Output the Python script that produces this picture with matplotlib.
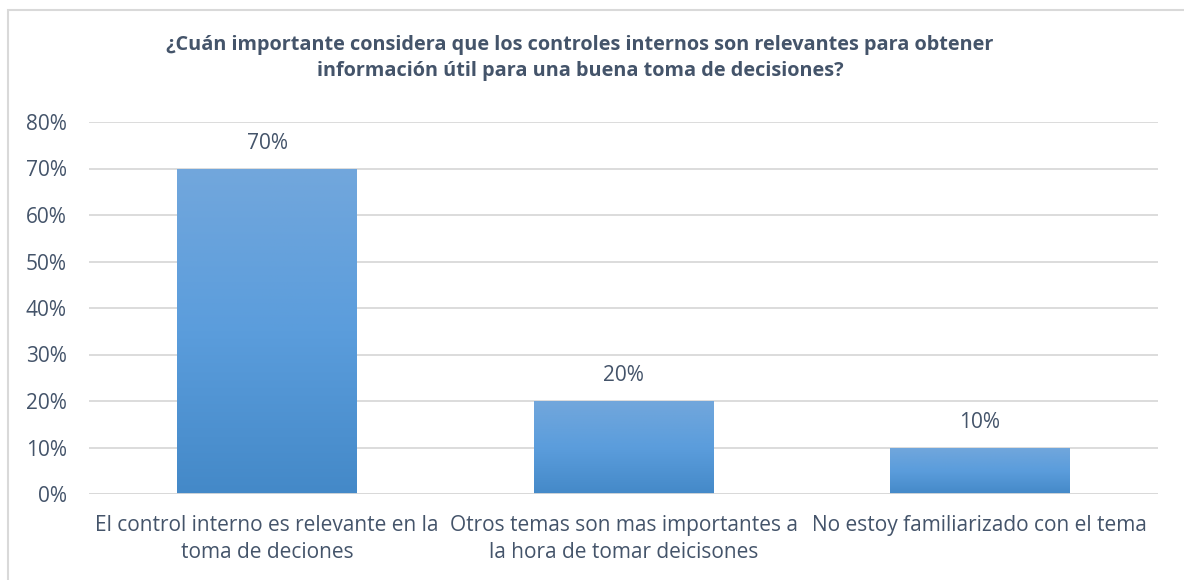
import numpy as np
import matplotlib.pyplot as plt
from matplotlib.patches import Rectangle
from matplotlib.colors import LinearSegmentedColormap

# data
categories = ["El control interno es relevante en la\ntoma de deciones",
              "Otros temas son mas importantes a\nla hora de tomar deicisones",
              "No estoy familiarizado con el tema"]
values = [0.70, 0.20, 0.10]
yticks = [0, 0.1, 0.2, 0.3, 0.4, 0.5, 0.6, 0.7, 0.8]
title = "¿Cuán importante considera que los controles internos son relevantes para obtener\ninformación útil para una buena toma de decisiones?"

txt = "#44546a"
plt.rcParams['font.family'] = ['Open Sans', 'DejaVu Sans']

fig = plt.figure(figsize=(11.84, 5.80), dpi=100)
ax = fig.add_axes([89/1184, 1-494/580, (1158-89)/1184, (494-122)/580])

x = np.arange(len(categories))
bars = ax.bar(x, values, width=0.505, color="#5b9bd5", zorder=2)

# vertical gradient on each bar (light top, darker bottom)
grad = np.linspace(0, 1, 256).reshape(-1, 1)
cmap = LinearSegmentedColormap.from_list("g", ["#4489c8", "#5b9ddc", "#72a7dc"])
for b in bars:
    x0, w, h = b.get_x(), b.get_width(), b.get_height()
    im = ax.imshow(grad, cmap=cmap, aspect="auto", origin="lower",
                   extent=[x0, x0 + w, 0, h], zorder=3)
    im.set_clip_path(b)
    ax.text(x0 + w/2, h + 0.054, f"{h:.0%}", ha="center", va="center",
            fontsize=15, color=txt)

ax.set_xlim(-0.5, len(categories) - 0.5)
ax.set_ylim(0, 0.8)
ax.set_yticks(yticks)
ax.set_yticklabels([f"{v:.0%}" for v in yticks], fontsize=15, color=txt)
ax.set_xticks(x)
ax.set_xticklabels(categories, fontsize=15, color=txt, linespacing=1.38)
ax.tick_params(length=0)
ax.tick_params(axis="y", pad=16)
ax.tick_params(axis="x", pad=15)
ax.grid(axis="y", color="#d9d9d9", lw=1.3, zorder=0)
for s in ax.spines.values():
    s.set_visible(False)
ax.axhline(0, color="#d9d9d9", lw=1.3, zorder=4)

fig.text(580/1184, 1-58/580, title, ha="center", va="center", fontsize=14.3,
         fontweight="bold", color=txt, linespacing=1.45)

# chart border (only left and top edges visible)
fig.patches.append(Rectangle((8/1184, -0.1), 1.2, 1.1 - 10/580, transform=fig.transFigure,
                             fill=False, ec="#d9d9d9", lw=1.5))

fig.savefig("out.png", dpi=100)
